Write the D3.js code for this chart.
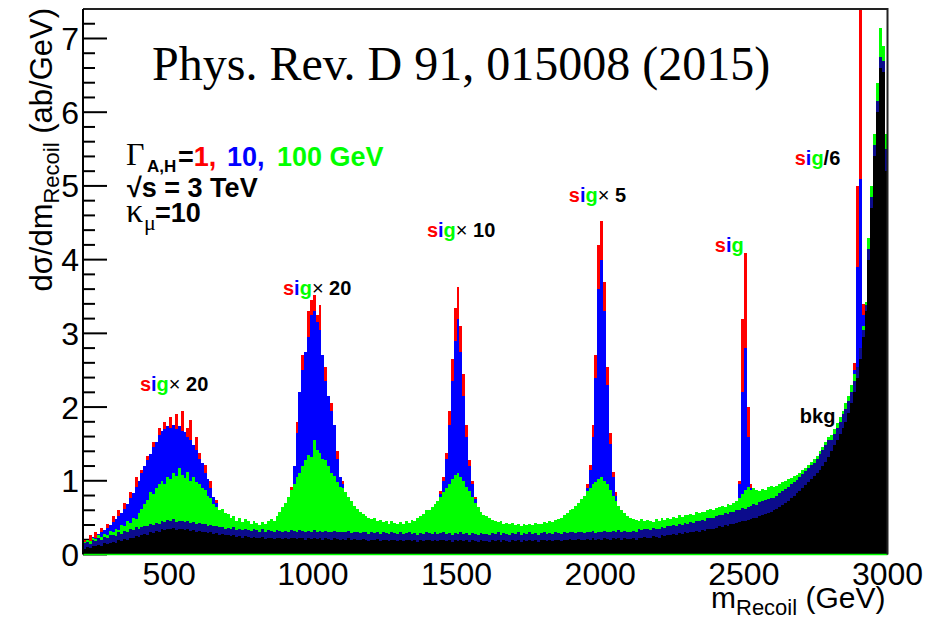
<!DOCTYPE html>
<html lang="en">
<head>
<meta charset="utf-8">
<title>Recoil mass spectrum, sqrt(s) = 3 TeV</title>
<script src="https://cdn.jsdelivr.net/npm/d3@7"></script>
<style>
  body { margin: 0; background: #fff; }
  text { font-family: "Liberation Sans", Arial, Helvetica, sans-serif; }
  .serif { font-family: "Liberation Serif", "Times New Roman", serif; }
</style>
</head>
<body>
<script>
// binning of the histograms (GeV)
const massLo = 200, massHi = 3000, binWidth = 10;

// one row = 100 GeV (10 bins)
// sig (width 1 GeV) + bkg, red
const histW1 = [
  0.20,0.20,0.26,0.24,0.30,0.28,0.36,0.33,0.42,0.40,
  0.52,0.48,0.60,0.56,0.70,0.68,0.85,0.84,1.05,1.00,
  1.15,1.20,1.34,1.36,1.52,1.52,1.72,1.68,1.80,1.74,
  1.86,1.76,1.90,1.74,1.95,1.66,1.72,1.82,1.48,1.60,
  1.38,1.24,1.22,1.02,1.00,0.78,0.74,0.60,0.58,0.50,
  0.47,0.43,0.41,0.39,0.37,0.36,0.36,0.35,0.34,0.35,
  0.34,0.34,0.35,0.34,0.36,0.37,0.40,0.44,0.50,0.60,
  0.62,0.70,0.92,1.20,1.80,2.20,2.70,2.75,3.30,3.45,
  3.52,3.25,3.38,2.70,2.55,2.15,2.05,1.75,1.40,1.05,
  1.00,0.84,0.63,0.52,0.44,0.39,0.36,0.34,0.33,0.32,
  0.31,0.31,0.31,0.30,0.31,0.30,0.30,0.31,0.30,0.30,
  0.31,0.30,0.31,0.31,0.31,0.32,0.33,0.35,0.39,0.44,
  0.47,0.54,0.62,0.73,0.86,1.05,1.38,1.95,2.65,3.35,
  3.63,3.10,2.45,1.75,1.28,1.00,0.78,0.62,0.52,0.44,
  0.40,0.35,0.33,0.32,0.31,0.31,0.30,0.30,0.29,0.30,
  0.29,0.30,0.29,0.30,0.29,0.30,0.30,0.30,0.30,0.31,
  0.31,0.31,0.31,0.32,0.32,0.33,0.34,0.36,0.39,0.44,
  0.47,0.52,0.58,0.66,0.78,0.95,1.22,1.75,2.70,4.20,
  4.53,3.70,2.55,1.65,1.12,0.85,0.65,0.52,0.44,0.38,
  0.35,0.34,0.33,0.34,0.34,0.35,0.35,0.35,0.36,0.37,
  0.37,0.38,0.39,0.40,0.40,0.41,0.42,0.43,0.44,0.45,
  0.45,0.46,0.47,0.48,0.48,0.49,0.50,0.51,0.52,0.53,
  0.53,0.54,0.55,0.57,0.59,0.61,0.65,0.72,1.00,3.20,
  4.09,2.00,0.95,0.72,0.67,0.69,0.71,0.73,0.75,0.77,
  0.77,0.80,0.83,0.86,0.89,0.92,0.95,0.98,1.01,1.04,
  1.08,1.12,1.16,1.20,1.23,1.28,1.34,1.40,1.46,1.53,
  1.51,1.59,1.67,1.76,1.86,1.96,2.06,2.21,2.60,5.00,
  8.50,3.40,3.30,4.10,4.80,5.50,6.10,6.75,6.70,5.50
];

// sig (width 10 GeV) + bkg, blue
const histW10 = [
  0.15,0.20,0.18,0.24,0.22,0.28,0.30,0.33,0.36,0.40,
  0.44,0.48,0.52,0.56,0.62,0.68,0.76,0.84,0.92,1.00,
  1.10,1.20,1.28,1.36,1.46,1.52,1.62,1.68,1.70,1.74,
  1.72,1.76,1.70,1.74,1.68,1.66,1.60,1.56,1.48,1.42,
  1.30,1.24,1.10,1.02,0.90,0.78,0.70,0.60,0.55,0.50,
  0.45,0.42,0.40,0.38,0.36,0.35,0.35,0.34,0.33,0.34,
  0.33,0.33,0.34,0.33,0.35,0.36,0.38,0.42,0.48,0.56,
  0.60,0.68,0.85,1.20,1.65,2.20,2.50,2.75,2.95,3.25,
  3.30,3.15,3.05,2.70,2.35,2.15,1.95,1.75,1.30,1.05,
  0.95,0.80,0.60,0.50,0.42,0.38,0.35,0.33,0.32,0.31,
  0.30,0.30,0.30,0.29,0.30,0.29,0.29,0.30,0.29,0.29,
  0.30,0.29,0.30,0.30,0.30,0.31,0.32,0.34,0.38,0.42,
  0.45,0.52,0.60,0.70,0.82,1.00,1.30,1.75,2.35,2.90,
  3.20,2.75,2.15,1.60,1.20,0.95,0.75,0.60,0.50,0.42,
  0.38,0.34,0.32,0.31,0.30,0.30,0.29,0.29,0.28,0.29,
  0.28,0.29,0.28,0.29,0.28,0.29,0.29,0.29,0.29,0.30,
  0.30,0.30,0.30,0.31,0.31,0.32,0.33,0.35,0.38,0.42,
  0.45,0.50,0.56,0.64,0.75,0.90,1.15,1.60,2.40,3.60,
  4.00,3.30,2.30,1.50,1.05,0.80,0.62,0.50,0.42,0.36,
  0.34,0.33,0.32,0.33,0.33,0.34,0.34,0.34,0.35,0.36,
  0.36,0.37,0.38,0.39,0.39,0.40,0.41,0.42,0.43,0.44,
  0.44,0.45,0.46,0.47,0.47,0.48,0.49,0.50,0.51,0.52,
  0.52,0.53,0.54,0.56,0.58,0.60,0.64,0.70,0.95,2.20,
  2.80,1.60,0.90,0.70,0.66,0.68,0.70,0.72,0.74,0.76,
  0.76,0.79,0.82,0.85,0.88,0.91,0.94,0.97,1.00,1.03,
  1.07,1.11,1.15,1.19,1.22,1.27,1.33,1.39,1.45,1.52,
  1.50,1.58,1.66,1.75,1.85,1.95,2.05,2.20,2.50,3.90,
  5.10,3.25,3.30,4.10,4.80,5.50,6.10,6.75,6.70,5.50
];

// sig (width 100 GeV) + bkg, green
const histW100 = [
  0.17,0.20,0.18,0.23,0.21,0.26,0.24,0.28,0.27,0.32,
  0.30,0.35,0.33,0.40,0.38,0.45,0.43,0.50,0.48,0.56,
  0.62,0.68,0.74,0.85,0.82,0.90,0.95,1.00,0.96,1.05,
  1.02,1.10,1.06,1.18,1.08,1.04,1.12,1.00,1.05,0.98,
  0.95,0.90,0.88,0.80,0.76,0.68,0.65,0.60,0.62,0.56,
  0.55,0.50,0.52,0.46,0.50,0.44,0.48,0.45,0.42,0.46,
  0.43,0.40,0.44,0.42,0.45,0.48,0.46,0.52,0.58,0.64,
  0.70,0.78,0.88,0.95,1.05,1.10,1.20,1.28,1.35,1.32,
  1.55,1.42,1.38,1.30,1.28,1.20,1.10,1.06,0.98,0.92,
  0.90,0.85,0.78,0.72,0.66,0.62,0.58,0.55,0.52,0.50,
  0.48,0.50,0.46,0.47,0.44,0.46,0.42,0.45,0.43,0.41,
  0.44,0.42,0.45,0.43,0.47,0.45,0.50,0.52,0.55,0.60,
  0.60,0.64,0.68,0.72,0.78,0.85,0.90,0.96,1.02,1.08,
  1.10,1.05,1.00,0.92,0.86,0.78,0.70,0.64,0.58,0.54,
  0.52,0.50,0.47,0.46,0.44,0.45,0.42,0.43,0.41,0.43,
  0.40,0.42,0.39,0.41,0.40,0.42,0.40,0.43,0.41,0.42,
  0.44,0.43,0.45,0.44,0.47,0.48,0.50,0.53,0.56,0.60,
  0.62,0.66,0.70,0.75,0.80,0.86,0.90,0.95,0.98,1.02,
  1.05,1.00,0.95,0.88,0.80,0.72,0.66,0.60,0.56,0.52,
  0.50,0.48,0.47,0.46,0.48,0.45,0.47,0.46,0.44,0.48,
  0.46,0.49,0.47,0.50,0.48,0.51,0.50,0.53,0.51,0.54,
  0.53,0.55,0.54,0.57,0.56,0.58,0.57,0.60,0.62,0.61,
  0.63,0.64,0.66,0.65,0.68,0.67,0.70,0.72,0.76,0.82,
  0.88,0.92,0.88,0.90,0.88,0.86,0.89,0.88,0.91,0.93,
  0.91,0.93,0.96,0.98,1.00,1.02,1.04,1.06,1.08,1.10,
  1.14,1.18,1.22,1.26,1.30,1.34,1.40,1.46,1.52,1.59,
  1.62,1.70,1.78,1.86,1.95,2.05,2.15,2.30,2.45,2.55,
  2.70,3.10,3.42,4.30,5.00,5.70,6.40,7.14,6.90,5.70
];

// bkg, upper edge of the bin-to-bin fluctuation (dark blue outline)
const bkgTop = [
  0.15,0.17,0.14,0.20,0.18,0.22,0.19,0.24,0.22,0.26,
  0.27,0.25,0.30,0.28,0.32,0.30,0.34,0.33,0.37,0.35,
  0.37,0.38,0.38,0.41,0.40,0.43,0.42,0.45,0.44,0.47,
  0.45,0.48,0.44,0.46,0.45,0.44,0.46,0.43,0.44,0.42,
  0.43,0.41,0.42,0.39,0.40,0.38,0.39,0.37,0.37,0.35,
  0.36,0.34,0.37,0.33,0.35,0.33,0.35,0.33,0.32,0.34,
  0.33,0.31,0.34,0.31,0.33,0.32,0.31,0.33,0.32,0.31,
  0.32,0.31,0.33,0.32,0.31,0.33,0.32,0.30,0.32,0.31,
  0.33,0.31,0.32,0.30,0.32,0.31,0.30,0.32,0.31,0.30,
  0.31,0.30,0.32,0.29,0.31,0.30,0.29,0.31,0.30,0.28,
  0.30,0.29,0.31,0.28,0.30,0.29,0.28,0.30,0.29,0.28,
  0.30,0.28,0.29,0.30,0.28,0.29,0.27,0.29,0.28,0.30,
  0.29,0.28,0.30,0.28,0.29,0.30,0.28,0.29,0.27,0.29,
  0.28,0.30,0.28,0.29,0.27,0.29,0.28,0.27,0.29,0.28,
  0.28,0.27,0.29,0.28,0.30,0.27,0.29,0.28,0.27,0.29,
  0.28,0.30,0.27,0.29,0.28,0.30,0.28,0.29,0.27,0.29,
  0.30,0.28,0.29,0.28,0.30,0.29,0.28,0.30,0.29,0.31,
  0.30,0.29,0.31,0.30,0.29,0.31,0.30,0.32,0.29,0.31,
  0.30,0.32,0.31,0.30,0.32,0.31,0.33,0.30,0.32,0.31,
  0.31,0.32,0.30,0.34,0.33,0.35,0.34,0.33,0.36,0.35,
  0.34,0.37,0.36,0.39,0.38,0.40,0.39,0.41,0.40,0.43,
  0.42,0.44,0.43,0.46,0.45,0.47,0.46,0.49,0.50,0.49,
  0.52,0.54,0.53,0.56,0.55,0.58,0.57,0.60,0.61,0.63,
  0.62,0.65,0.66,0.68,0.67,0.71,0.72,0.74,0.75,0.77,
  0.77,0.80,0.83,0.86,0.89,0.92,0.95,0.98,1.01,1.05,
  1.09,1.13,1.17,1.21,1.24,1.30,1.36,1.42,1.48,1.55,
  1.55,1.64,1.72,1.80,1.90,1.98,2.08,2.20,2.35,2.55,
  2.80,3.05,3.38,4.15,4.85,5.55,6.15,6.75,6.70,5.50
];

// bkg, black
const bkg = [
  0.08,0.10,0.09,0.12,0.11,0.13,0.12,0.15,0.14,0.16,
  0.17,0.16,0.19,0.18,0.21,0.20,0.23,0.22,0.25,0.24,
  0.26,0.28,0.27,0.30,0.29,0.32,0.31,0.34,0.33,0.35,
  0.34,0.36,0.33,0.35,0.34,0.33,0.35,0.32,0.33,0.31,
  0.32,0.30,0.31,0.29,0.30,0.28,0.29,0.27,0.28,0.26,
  0.26,0.25,0.27,0.24,0.25,0.23,0.25,0.24,0.22,0.24,
  0.23,0.22,0.24,0.21,0.23,0.22,0.21,0.23,0.22,0.21,
  0.22,0.21,0.23,0.22,0.21,0.23,0.22,0.20,0.22,0.21,
  0.23,0.21,0.22,0.20,0.22,0.21,0.20,0.22,0.21,0.20,
  0.21,0.20,0.22,0.19,0.21,0.20,0.19,0.21,0.20,0.18,
  0.20,0.19,0.21,0.18,0.20,0.19,0.18,0.20,0.19,0.18,
  0.20,0.18,0.19,0.20,0.18,0.19,0.17,0.19,0.18,0.20,
  0.19,0.18,0.20,0.18,0.19,0.20,0.18,0.19,0.17,0.19,
  0.18,0.20,0.18,0.19,0.17,0.19,0.18,0.17,0.19,0.18,
  0.18,0.17,0.19,0.18,0.20,0.17,0.19,0.18,0.17,0.19,
  0.18,0.20,0.17,0.19,0.18,0.20,0.18,0.19,0.17,0.19,
  0.20,0.18,0.19,0.18,0.20,0.19,0.18,0.20,0.19,0.21,
  0.20,0.19,0.21,0.20,0.19,0.21,0.20,0.22,0.19,0.21,
  0.20,0.22,0.21,0.20,0.22,0.21,0.23,0.20,0.22,0.21,
  0.21,0.22,0.20,0.23,0.22,0.24,0.23,0.22,0.25,0.24,
  0.23,0.26,0.25,0.27,0.26,0.28,0.27,0.29,0.28,0.30,
  0.29,0.31,0.30,0.32,0.31,0.33,0.32,0.34,0.35,0.34,
  0.36,0.38,0.37,0.40,0.39,0.42,0.41,0.43,0.44,0.46,
  0.45,0.47,0.48,0.50,0.49,0.52,0.53,0.55,0.56,0.58,
  0.60,0.62,0.65,0.67,0.70,0.73,0.76,0.80,0.83,0.86,
  0.90,0.94,0.98,1.02,1.06,1.10,1.15,1.20,1.26,1.32,
  1.40,1.48,1.56,1.64,1.72,1.80,1.92,2.05,2.20,2.40,
  2.65,2.95,3.30,4.00,4.70,5.40,6.00,6.60,6.55,5.20
];

const xTicks = [500, 1000, 1500, 2000, 2500, 3000];
const yTicks = [0, 1, 2, 3, 4, 5, 6, 7];
const yMax = 7.4;

// "sig" annotations, placed in data units (GeV, ab/GeV)
const sigLabels = [
  {m: 398,  v: 2.22, factor: "20", op: "×"},
  {m: 896,  v: 3.52, factor: "20", op: "×"},
  {m: 1397, v: 4.31, factor: "10", op: "×"},
  {m: 1891, v: 4.78, factor: "5",  op: "×"},
  {m: 2399, v: 4.10, factor: "",   op: ""},
  {m: 2677, v: 5.28, factor: "6",  op: "/"}
];

let w = 931, h = 618;

let x = d3.scaleLinear().domain([massLo, massHi]).range([83, 887.5]);
let y = d3.scaleLinear().domain([0, yMax]).range([554.5, 9]);

let svg = d3.select("body")
  .append("svg")
  .attr("width", w)
  .attr("height", h);

svg.append("clipPath").attr("id", "frame")
  .append("rect")
  .attr("x", x(massLo)).attr("y", y(yMax))
  .attr("width", x(massHi) - x(massLo))
  .attr("height", y(0) - y(yMax));

// y ticks (ROOT style, inside the frame), drawn below the histograms
let minor = y.ticks(37);
svg.append("g").selectAll("line")
  .data(minor)
  .enter().append("line")
  .attr("x1", x(massLo))
  .attr("x2", d => x(massLo) + (Math.abs(d - Math.round(d)) < 1e-6 ? 24 : 12))
  .attr("y1", d => y(d)).attr("y2", d => y(d))
  .attr("stroke", "#000").attr("stroke-width", 2);

// histograms
function steps(vals) {
  let pts = vals.map((v, i) => [massLo + i * binWidth, v]);
  pts.push([massHi, vals[vals.length - 1]]);
  return pts;
}

let area = d3.area()
  .x(d => x(d[0]))
  .y0(y(0))
  .y1(d => y(d[1]))
  .curve(d3.curveStepAfter);

let hists = [
  {vals: histW1, color: "#ff0000"},
  {vals: histW10, color: "#0000ff"},
  {vals: histW100, color: "#00ff00"},
  {vals: bkgTop, color: "#0c0c8c"},
  {vals: bkg, color: "#000000"}
];

svg.append("g").attr("clip-path", "url(#frame)")
  .selectAll("path")
  .data(hists)
  .enter().append("path")
  .attr("d", d => area(steps(d.vals)))
  .attr("fill", d => d.color)
  .attr("shape-rendering", "crispEdges");

// histogram outline at zero
svg.append("line")
  .attr("x1", x(massLo)).attr("x2", x(massHi))
  .attr("y1", y(0)).attr("y2", y(0))
  .attr("stroke", "#00ff00").attr("stroke-width", 1.5);

// frame
svg.append("path")
  .attr("d", `M${x(massLo)},${y(yMax)}H${x(massHi)}V${y(0)}`)
  .attr("fill", "none").attr("stroke", "#222").attr("stroke-width", 2);
svg.append("line")
  .attr("x1", x(massLo)).attr("x2", x(massLo))
  .attr("y1", y(yMax)).attr("y2", y(0))
  .attr("stroke", "#000").attr("stroke-width", 2);

// tick labels
svg.append("g").selectAll("text")
  .data(yTicks)
  .enter().append("text")
  .attr("x", 79).attr("y", d => y(d)).attr("dy", "0.36em")
  .attr("text-anchor", "end")
  .attr("font-size", 32)
  .text(d => d);

svg.append("g").selectAll("text")
  .data(xTicks)
  .enter().append("text")
  .attr("x", d => x(d)).attr("y", 585)
  .attr("text-anchor", "middle")
  .attr("font-size", 32)
  .text(d => d);

// axis titles
let xt = svg.append("text")
  .attr("x", x(massHi) - 2).attr("y", 608)
  .attr("text-anchor", "end")
  .attr("font-size", 30);
xt.append("tspan").text("m");
xt.append("tspan").attr("font-size", 22).attr("dy", 7).text("Recoil");
xt.append("tspan").attr("dy", -7).text(" (GeV)");

let yt = svg.append("text")
  .attr("transform", `translate(52,${y(yMax) - 1}) rotate(-90)`)
  .attr("text-anchor", "end")
  .attr("font-size", 31);
yt.append("tspan").text("dσ/dm");
yt.append("tspan").attr("font-size", 22).attr("dy", 7).text("Recoil");
yt.append("tspan").attr("dy", -7).text(" (ab/GeV)");

// reference
svg.append("text")
  .attr("class", "serif")
  .attr("x", 152).attr("y", 80)
  .attr("font-size", 48)
  .text("Phys. Rev. D 91, 015008 (2015)");

// parameters
let g1 = svg.append("g").attr("font-weight", "bold").attr("font-size", 27);
g1.append("text").attr("class", "serif").attr("font-weight", "normal")
  .attr("font-size", 32).attr("x", 126).attr("y", 165).text("Γ");
g1.append("text").attr("font-size", 17).attr("x", 147).attr("y", 172).text("A,H");
let t1 = g1.append("text").attr("y", 166);
t1.append("tspan").attr("x", 178).text("=");
t1.append("tspan").attr("fill", "#ff0000").text("1,");
t1.append("tspan").attr("x", 227).attr("fill", "#0000ff").text("10,");
t1.append("tspan").attr("x", 277).attr("fill", "#00ff00").text("100 GeV");

g1.append("text").attr("x", 127).attr("y", 197).text("√s = 3 TeV");

g1.append("text").attr("class", "serif").attr("font-weight", "normal")
  .attr("font-size", 34).attr("x", 126).attr("y", 222).text("κ");
g1.append("text").attr("class", "serif").attr("font-weight", "normal")
  .attr("font-size", 22).attr("x", 144).attr("y", 230).text("μ");
g1.append("text").attr("x", 155).attr("y", 222).text("=10");

// sig / bkg annotations
let lab = svg.append("g").selectAll("text")
  .data(sigLabels)
  .enter().append("text")
  .attr("x", d => x(d.m)).attr("y", d => y(d.v))
  .attr("font-size", 20).attr("font-weight", "bold");
lab.append("tspan").attr("fill", "#ff0000").text("s");
lab.append("tspan").attr("fill", "#0000ff").text("i");
lab.append("tspan").attr("fill", "#00ff00").text("g");
lab.append("tspan").attr("font-weight", d => d.op === "×" ? "normal" : "bold").text(d => d.op);
lab.append("tspan").text(d => d.factor ? (d.op === "×" ? " " : "") + d.factor : "");

svg.append("text")
  .attr("x", x(2695)).attr("y", y(1.78))
  .attr("font-size", 20).attr("font-weight", "bold")
  .text("bkg");
</script>
</body>
</html>
